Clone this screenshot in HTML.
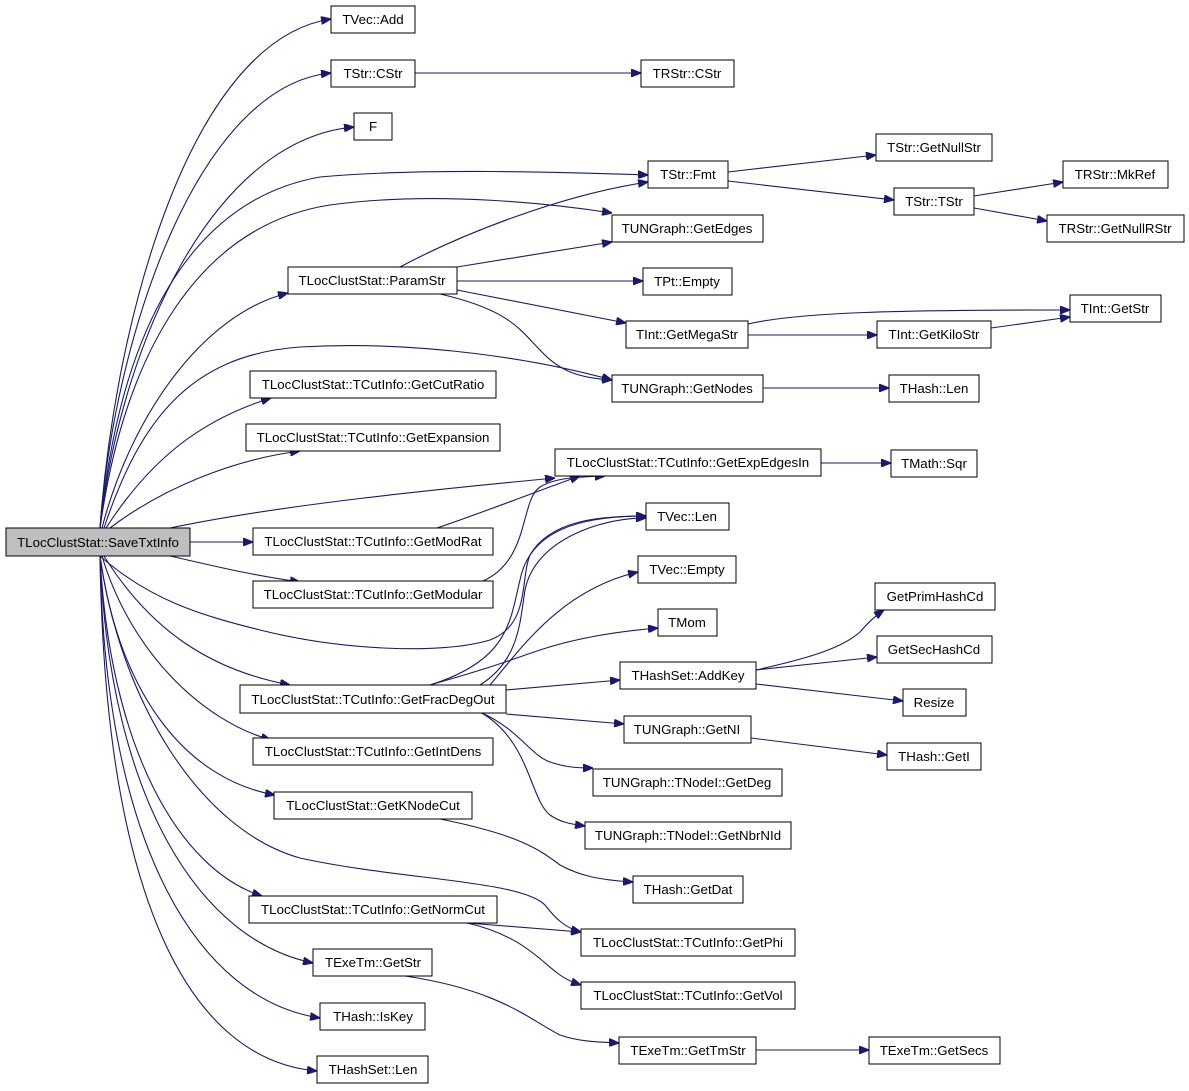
<!DOCTYPE html>
<html><head><meta charset="utf-8"><style>
html,body{margin:0;padding:0;background:#fff;}
svg{display:block;}
text{font-family:"Liberation Sans",sans-serif;font-size:13.3px;fill:#000;}
rect{fill:#fff;stroke:#000;stroke-width:1;}
path{fill:none;stroke:#191970;stroke-width:1.1;}
</style></head><body>
<svg width="1189" height="1091" viewBox="0 0 1189 1091" xmlns="http://www.w3.org/2000/svg">
<defs><marker id="a" markerWidth="10" markerHeight="8" refX="10" refY="4" orient="auto" markerUnits="userSpaceOnUse"><path d="M0,0 L10,4 L0,8 Z" style="fill:#191970;stroke:#191970"/></marker></defs>
<g marker-end="url(#a)">
<path d="M100,528 C115,320 190,40 331,19"/>
<path d="M100,528 C115,330 200,85 331,73"/>
<path d="M100,528 C120,350 210,140 354,127"/>
<path d="M100,528 C120,330 190,200 320,177 C420,168 560,172 648,175"/>
<path d="M100,528 C125,350 200,225 330,205 C440,190 560,205 612,213"/>
<path d="M102,528 C130,420 200,315 288,293"/>
<path d="M104,528 C140,420 190,355 300,347 C420,340 540,360 612,380"/>
<path d="M106,528 C150,460 200,420 271,398"/>
<path d="M110,528 C160,490 230,460 300,451"/>
<path d="M170,528 C280,505 430,490 555,478"/>
<path d="M190,542 L253,542"/>
<path d="M170,556 C210,565 250,575 300,582"/>
<path d="M100,556 C150,600 200,615 260,630 C340,650 440,655 490,640 C530,625 520,580 530,555 C550,520 600,516 646,516"/>
<path d="M104,556 C150,630 210,670 290,685"/>
<path d="M102,556 C130,650 200,720 271,740"/>
<path d="M100,556 C120,700 190,780 275,795"/>
<path d="M100,556 C120,700 200,830 300,858 C400,880 520,880 545,905 C555,918 565,928 581,932"/>
<path d="M100,556 C110,750 180,870 262,896"/>
<path d="M100,556 C110,800 200,940 313,963"/>
<path d="M100,556 C105,850 200,1000 320,1018"/>
<path d="M100,556 C105,900 190,1060 317,1071"/>
<path d="M415,73 L641,73"/>
<path d="M728,172 L876,155"/>
<path d="M728,181 L894,200"/>
<path d="M974,196 L1063,182"/>
<path d="M974,208 L1047,221"/>
<path d="M400,267 C460,235 560,195 648,182"/>
<path d="M457,267 L612,242"/>
<path d="M457,281 L643,281"/>
<path d="M457,290 L626,323"/>
<path d="M440,294 C510,310 520,330 540,350 C560,372 580,378 612,380"/>
<path d="M748,324 C800,312 900,310 1070,310"/>
<path d="M748,335 L877,335"/>
<path d="M991,328 L1070,317"/>
<path d="M763,388 L889,388"/>
<path d="M821,463 L891,463"/>
<path d="M437,528 C490,510 540,490 580,476"/>
<path d="M483,581 C530,560 520,500 540,487 C555,478 575,477 605,476"/>
<path d="M430,685 C510,660 510,620 520,580 C530,530 580,516 646,516"/>
<path d="M480,685 C520,660 520,620 525,590 C535,540 600,518 646,518"/>
<path d="M490,685 C520,650 560,590 638,572"/>
<path d="M430,685 C500,665 510,660 540,650 C570,640 610,632 658,628"/>
<path d="M506,690 L620,680"/>
<path d="M506,714 L624,724"/>
<path d="M480,712 C520,730 530,755 550,762 C565,767 575,768 593,768"/>
<path d="M480,712 C530,740 530,800 550,815 C560,822 570,824 585,826"/>
<path d="M756,670 C800,660 840,650 860,632 C870,620 878,614 884,610"/>
<path d="M756,670 L877,657"/>
<path d="M756,684 L903,701"/>
<path d="M751,738 L887,755"/>
<path d="M440,819 C520,835 540,850 560,865 C580,876 600,880 633,882"/>
<path d="M467,923 L581,932"/>
<path d="M467,923 C520,935 540,960 556,972 C566,980 575,983 581,985"/>
<path d="M405,976 C500,990 530,1020 560,1035 C580,1042 600,1042 619,1043"/>
<path d="M756,1050 L869,1050"/>
</g>
<g>
<rect x="6" y="528" width="184" height="28" style="fill:#bfbfbf"/><text x="98" y="547" text-anchor="middle">TLocClustStat::SaveTxtInfo</text>
<rect x="331" y="6" width="84" height="27"/><text x="373" y="24" text-anchor="middle">TVec::Add</text>
<rect x="331" y="60" width="84" height="27"/><text x="373" y="78" text-anchor="middle">TStr::CStr</text>
<rect x="641" y="60" width="93" height="27"/><text x="687" y="78" text-anchor="middle">TRStr::CStr</text>
<rect x="354" y="113" width="38" height="27"/><text x="373" y="131" text-anchor="middle">F</text>
<rect x="648" y="161" width="80" height="27"/><text x="688" y="179" text-anchor="middle">TStr::Fmt</text>
<rect x="876" y="134" width="116" height="27"/><text x="934" y="152" text-anchor="middle">TStr::GetNullStr</text>
<rect x="894" y="188" width="80" height="27"/><text x="934" y="206" text-anchor="middle">TStr::TStr</text>
<rect x="1063" y="161" width="105" height="27"/><text x="1115" y="179" text-anchor="middle">TRStr::MkRef</text>
<rect x="1047" y="215" width="137" height="27"/><text x="1115" y="233" text-anchor="middle">TRStr::GetNullRStr</text>
<rect x="612" y="215" width="151" height="27"/><text x="687" y="233" text-anchor="middle">TUNGraph::GetEdges</text>
<rect x="288" y="267" width="169" height="27"/><text x="372" y="285" text-anchor="middle">TLocClustStat::ParamStr</text>
<rect x="643" y="268" width="89" height="27"/><text x="687" y="286" text-anchor="middle">TPt::Empty</text>
<rect x="626" y="321" width="122" height="27"/><text x="687" y="339" text-anchor="middle">TInt::GetMegaStr</text>
<rect x="877" y="321" width="114" height="27"/><text x="934" y="339" text-anchor="middle">TInt::GetKiloStr</text>
<rect x="1070" y="295" width="91" height="27"/><text x="1115" y="313" text-anchor="middle">TInt::GetStr</text>
<rect x="612" y="375" width="151" height="27"/><text x="687" y="393" text-anchor="middle">TUNGraph::GetNodes</text>
<rect x="889" y="375" width="90" height="27"/><text x="934" y="393" text-anchor="middle">THash::Len</text>
<rect x="250" y="371" width="246" height="27"/><text x="373" y="389" text-anchor="middle">TLocClustStat::TCutInfo::GetCutRatio</text>
<rect x="246" y="424" width="254" height="27"/><text x="373" y="442" text-anchor="middle">TLocClustStat::TCutInfo::GetExpansion</text>
<rect x="555" y="449" width="266" height="27"/><text x="688" y="467" text-anchor="middle">TLocClustStat::TCutInfo::GetExpEdgesIn</text>
<rect x="891" y="450" width="86" height="27"/><text x="934" y="468" text-anchor="middle">TMath::Sqr</text>
<rect x="253" y="528" width="240" height="27"/><text x="373" y="546" text-anchor="middle">TLocClustStat::TCutInfo::GetModRat</text>
<rect x="646" y="503" width="83" height="27"/><text x="687" y="521" text-anchor="middle">TVec::Len</text>
<rect x="253" y="581" width="240" height="27"/><text x="373" y="599" text-anchor="middle">TLocClustStat::TCutInfo::GetModular</text>
<rect x="638" y="556" width="98" height="27"/><text x="687" y="574" text-anchor="middle">TVec::Empty</text>
<rect x="658" y="609" width="59" height="27"/><text x="687" y="627" text-anchor="middle">TMom</text>
<rect x="875" y="583" width="120" height="27"/><text x="935" y="601" text-anchor="middle">GetPrimHashCd</text>
<rect x="877" y="636" width="115" height="27"/><text x="934" y="654" text-anchor="middle">GetSecHashCd</text>
<rect x="620" y="662" width="136" height="27"/><text x="688" y="680" text-anchor="middle">THashSet::AddKey</text>
<rect x="903" y="689" width="63" height="27"/><text x="934" y="707" text-anchor="middle">Resize</text>
<rect x="240" y="685" width="266" height="28"/><text x="373" y="704" text-anchor="middle">TLocClustStat::TCutInfo::GetFracDegOut</text>
<rect x="624" y="716" width="127" height="27"/><text x="687" y="734" text-anchor="middle">TUNGraph::GetNI</text>
<rect x="887" y="743" width="94" height="27"/><text x="934" y="761" text-anchor="middle">THash::GetI</text>
<rect x="253" y="738" width="240" height="27"/><text x="373" y="756" text-anchor="middle">TLocClustStat::TCutInfo::GetIntDens</text>
<rect x="593" y="769" width="189" height="27"/><text x="687" y="787" text-anchor="middle">TUNGraph::TNodeI::GetDeg</text>
<rect x="274" y="792" width="198" height="27"/><text x="373" y="810" text-anchor="middle">TLocClustStat::GetKNodeCut</text>
<rect x="585" y="822" width="206" height="27"/><text x="688" y="840" text-anchor="middle">TUNGraph::TNodeI::GetNbrNId</text>
<rect x="633" y="876" width="110" height="27"/><text x="688" y="894" text-anchor="middle">THash::GetDat</text>
<rect x="249" y="896" width="248" height="27"/><text x="373" y="914" text-anchor="middle">TLocClustStat::TCutInfo::GetNormCut</text>
<rect x="581" y="929" width="214" height="27"/><text x="688" y="947" text-anchor="middle">TLocClustStat::TCutInfo::GetPhi</text>
<rect x="313" y="949" width="119" height="27"/><text x="373" y="967" text-anchor="middle">TExeTm::GetStr</text>
<rect x="581" y="982" width="214" height="27"/><text x="688" y="1000" text-anchor="middle">TLocClustStat::TCutInfo::GetVol</text>
<rect x="320" y="1003" width="105" height="27"/><text x="373" y="1021" text-anchor="middle">THash::IsKey</text>
<rect x="619" y="1037" width="137" height="27"/><text x="688" y="1055" text-anchor="middle">TExeTm::GetTmStr</text>
<rect x="869" y="1037" width="131" height="27"/><text x="934" y="1055" text-anchor="middle">TExeTm::GetSecs</text>
<rect x="317" y="1056" width="111" height="27"/><text x="373" y="1074" text-anchor="middle">THashSet::Len</text>
</g>
</svg>
</body></html>
